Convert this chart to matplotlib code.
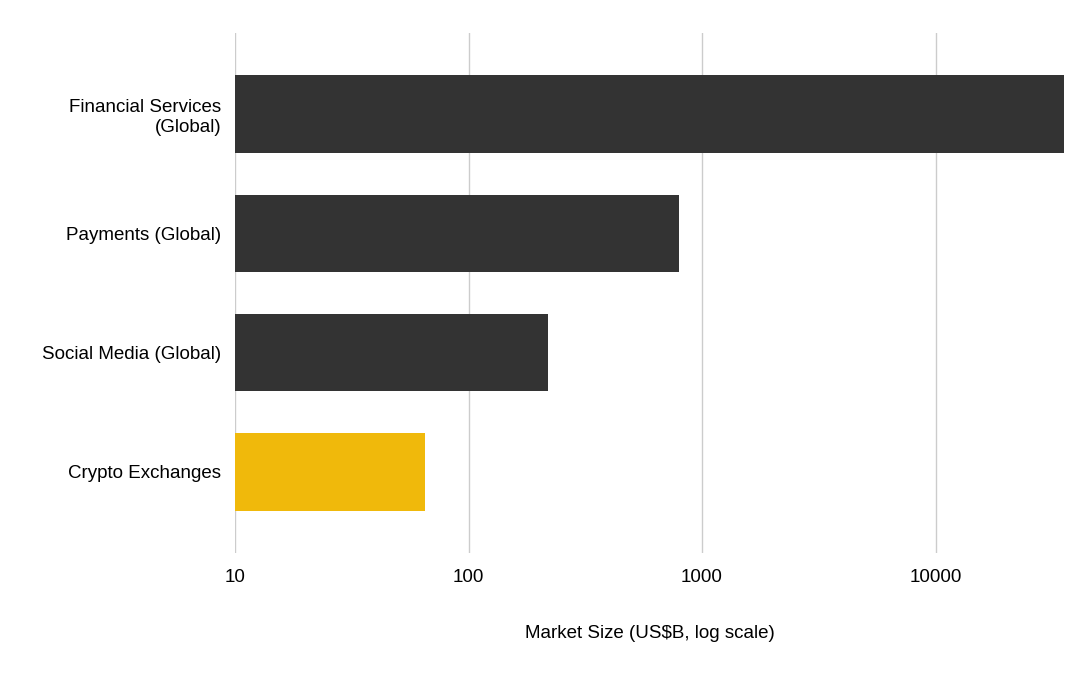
import matplotlib
matplotlib.use("Agg")
import matplotlib.pyplot as plt
from matplotlib.ticker import FixedLocator, FixedFormatter, NullLocator

plt.rcParams["font.family"] = ["Liberation Sans", "DejaVu Sans"]

categories = ["Financial Services\n(Global)", "Payments (Global)", "Social Media (Global)", "Crypto Exchanges"]
values = [35500, 790, 210, 55]
colors = ["#333333", "#333333", "#333333", "#F0B90B"]
ticks = [10, 100, 1000, 10000]
tick_labels = ["10", "100", "1000", "10000"]

fig = plt.figure(figsize=(10.8, 6.75), dpi=100)
ax = fig.add_axes([0.2176, 0.181, 0.9852 - 0.2176, 0.951 - 0.181])

ypos = list(range(len(categories)))[::-1]
ax.barh(ypos, values, left=10, height=0.65, color=colors, zorder=3)
ax.set_xscale("log")
ax.set_xlim(10, values[0])
ax.set_ylim(-0.68, 3.68)
ax.xaxis.set_major_locator(FixedLocator(ticks))
ax.xaxis.set_major_formatter(FixedFormatter(tick_labels))
ax.xaxis.set_minor_locator(NullLocator())
ax.set_yticks(ypos)
ax.set_yticklabels(categories, fontsize=13.5)
ax.tick_params(axis="x", labelsize=13.5, length=0, pad=12)
ax.tick_params(axis="y", length=0, pad=10)
for lab in ax.get_yticklabels():
    lab.set_horizontalalignment("right")
    lab.set_multialignment("right")
ax.grid(axis="x", color="#cccccc", linewidth=1, zorder=0)
for s in ax.spines.values():
    s.set_visible(False)
ax.set_xlabel("Market Size (US$B, log scale)", fontsize=13.5, labelpad=28)

fig.savefig("out.png", dpi=100, facecolor="white")
